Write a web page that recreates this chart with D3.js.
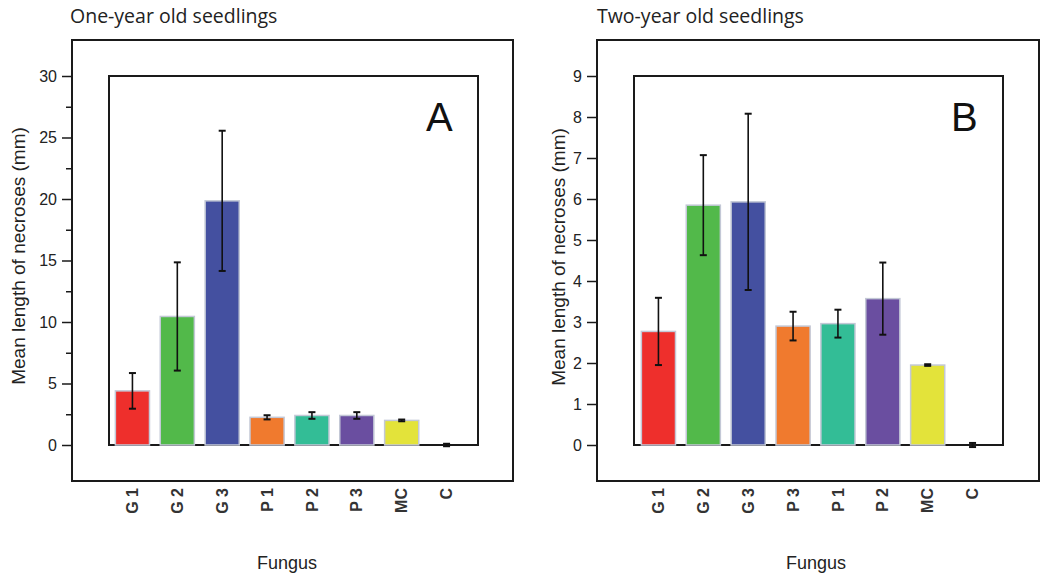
<!DOCTYPE html>
<html>
<head>
<meta charset="utf-8">
<script src="https://cdn.jsdelivr.net/npm/d3@7"></script>
<style>
  body { margin: 0; background: #fff; }
  svg { display: block; }
</style>
</head>
<body>
<div id="chart"></div>
<script>
// data
const categoriesA = ["G 1", "G 2", "G 3", "P 1", "P 2", "P 3", "MC", "C"];
const meansA = [4.4, 10.45, 19.85, 2.25, 2.4, 2.4, 2.0, 0];
const errorsA = [1.45, 4.4, 5.7, 0.17, 0.27, 0.27, 0.07, 0.1];
const yTicksA = [0, 5, 10, 15, 20, 25, 30];
const yMinorA = [2.5, 7.5, 12.5, 17.5, 22.5, 27.5];

const categoriesB = ["G 1", "G 2", "G 3", "P 3", "P 1", "P 2", "MC", "C"];
const meansB = [2.77, 5.85, 5.93, 2.9, 2.96, 3.57, 1.95, 0];
const errorsB = [0.82, 1.22, 2.15, 0.35, 0.34, 0.88, 0.02, 0.05];
const yTicksB = [0, 1, 2, 3, 4, 5, 6, 7, 8, 9];
const yMinorB = [];

// bar colours go by position, not by fungus name
const barColors = ["#ee2f2c", "#52b94a", "#4450a0", "#f07a2e", "#33bd96", "#6a4ea0", "#e3e33a", "#999"];

const width = 1041, height = 576;
const svg = d3.select("#chart").append("svg")
    .attr("width", width)
    .attr("height", height);

const axisFont = "'Liberation Sans', Arial, sans-serif";
const titleFont = "'Open Sans', 'Noto Sans', sans-serif";

function drawPanel(p) {
    const g = svg.append("g");

    const x = d3.scaleBand()
        .domain(p.categories)
        .range(p.xRange)
        .paddingInner(0.24)
        .paddingOuter(0.12);

    const y = d3.scaleLinear()
        .domain([0, p.yMax])
        .range([p.inner.y1, p.inner.y0]);

    // outer frame (acts as the axis lines)
    g.append("rect")
        .attr("x", p.outer.x0).attr("y", p.outer.y0)
        .attr("width", p.outer.x1 - p.outer.x0)
        .attr("height", p.outer.y1 - p.outer.y0)
        .attr("fill", "none").attr("stroke", "#1a1a1a").attr("stroke-width", 2);

    // inner frame
    g.append("rect")
        .attr("x", p.inner.x0).attr("y", p.inner.y0)
        .attr("width", p.inner.x1 - p.inner.x0)
        .attr("height", p.inner.y1 - p.inner.y0)
        .attr("fill", "none").attr("stroke", "#1a1a1a").attr("stroke-width", 2);

    // bars
    g.selectAll("rect.bar")
        .data(p.means.map((v, i) => ({ k: p.categories[i], v: v, e: p.errors[i], i: i })).filter(d => d.v > 0))
        .join("rect")
        .attr("class", "bar")
        .attr("x", d => x(d.k))
        .attr("y", d => y(d.v))
        .attr("width", x.bandwidth())
        .attr("height", d => y(0) - y(d.v))
        .attr("fill", d => barColors[d.i])
        .attr("stroke", "#c3c8d6")
        .attr("stroke-width", 1.5);

    // error bars
    const errData = p.means.map((v, i) => ({ k: p.categories[i], v: v, e: p.errors[i] }));
    const eb = g.selectAll("g.err").data(errData).join("g").attr("class", "err")
        .attr("transform", d => `translate(${x(d.k) + x.bandwidth() / 2},0)`);
    eb.append("line")
        .attr("y1", d => y(d.v - d.e)).attr("y2", d => y(d.v + d.e))
        .attr("stroke", "#111").attr("stroke-width", 1.6);
    eb.append("line")
        .attr("x1", -3.5).attr("x2", 3.5)
        .attr("y1", d => y(d.v + d.e)).attr("y2", d => y(d.v + d.e))
        .attr("stroke", "#111").attr("stroke-width", 2);
    eb.append("line")
        .attr("x1", -3.5).attr("x2", 3.5)
        .attr("y1", d => y(d.v - d.e)).attr("y2", d => y(d.v - d.e))
        .attr("stroke", "#111").attr("stroke-width", 2);

    // y axis ticks on the outer frame
    const yAxis = g.append("g")
        .attr("transform", `translate(${p.outer.x0},0)`)
        .call(d3.axisLeft(y).tickValues(p.yTicks).tickSize(10).tickPadding(5).tickFormat(d3.format("d")));
    yAxis.select(".domain").remove();
    yAxis.selectAll("line").attr("stroke", "#1a1a1a").attr("stroke-width", 1.5);
    yAxis.selectAll("text").attr("font-family", axisFont).attr("font-size", 16).attr("fill", "#222");

    if (p.yMinor.length) {
        const yMinor = g.append("g")
            .attr("transform", `translate(${p.outer.x0},0)`)
            .call(d3.axisLeft(y).tickValues(p.yMinor).tickSize(6).tickFormat(""));
        yMinor.select(".domain").remove();
        yMinor.selectAll("line").attr("stroke", "#1a1a1a").attr("stroke-width", 1.5);
    }

    // x axis labels, rotated
    const xAxis = g.append("g")
        .attr("transform", `translate(0,${p.outer.y1})`)
        .call(d3.axisBottom(x).tickSize(0));
    xAxis.select(".domain").remove();
    xAxis.selectAll("text")
        .attr("transform", "rotate(-90)")
        .attr("x", -7).attr("y", 0).attr("dy", "0.35em")
        .style("text-anchor", "end")
        .attr("font-family", axisFont).attr("font-size", 16).attr("font-weight", "bold").attr("fill", "#333");

    // axis titles
    g.append("text")
        .attr("transform", `translate(${p.yTitleX},${p.yTitleY}) rotate(-90)`)
        .attr("text-anchor", "middle")
        .attr("dy", "0.35em")
        .attr("font-family", axisFont).attr("font-size", 19).attr("fill", "#222")
        .text("Mean length of necroses (mm)");

    g.append("text")
        .attr("x", p.fungusX).attr("y", 569)
        .attr("text-anchor", "middle")
        .attr("font-family", axisFont).attr("font-size", 18).attr("fill", "#222")
        .text("Fungus");

    // panel title and letter
    g.append("text")
        .attr("x", p.titleX).attr("y", 23)
        .attr("font-family", titleFont).attr("font-size", 19.5).attr("fill", "#222")
        .text(p.title);

    g.append("text")
        .attr("x", p.letterX).attr("y", 131)
        .attr("font-family", axisFont).attr("font-size", 40).attr("fill", "#111")
        .text(p.letter);
}

drawPanel({
    categories: categoriesA, means: meansA, errors: errorsA,
    yMax: 30, yTicks: yTicksA, yMinor: yMinorA,
    outer: { x0: 72, y0: 40, x1: 513, y1: 481 },
    inner: { x0: 109, y0: 76, x1: 478, y1: 445 },
    xRange: [110, 469],
    title: "One-year old seedlings", titleX: 70,
    letter: "A", letterX: 426,
    yTitleX: 18, yTitleY: 256, fungusX: 287
});

drawPanel({
    categories: categoriesB, means: meansB, errors: errorsB,
    yMax: 9, yTicks: yTicksB, yMinor: yMinorB,
    outer: { x0: 597, y0: 40, x1: 1039, y1: 481 },
    inner: { x0: 634, y0: 76, x1: 1003, y1: 445 },
    xRange: [636, 995],
    title: "Two-year old seedlings", titleX: 597,
    letter: "B", letterX: 951,
    yTitleX: 558, yTitleY: 257, fungusX: 816
});
</script>
</body>
</html>
